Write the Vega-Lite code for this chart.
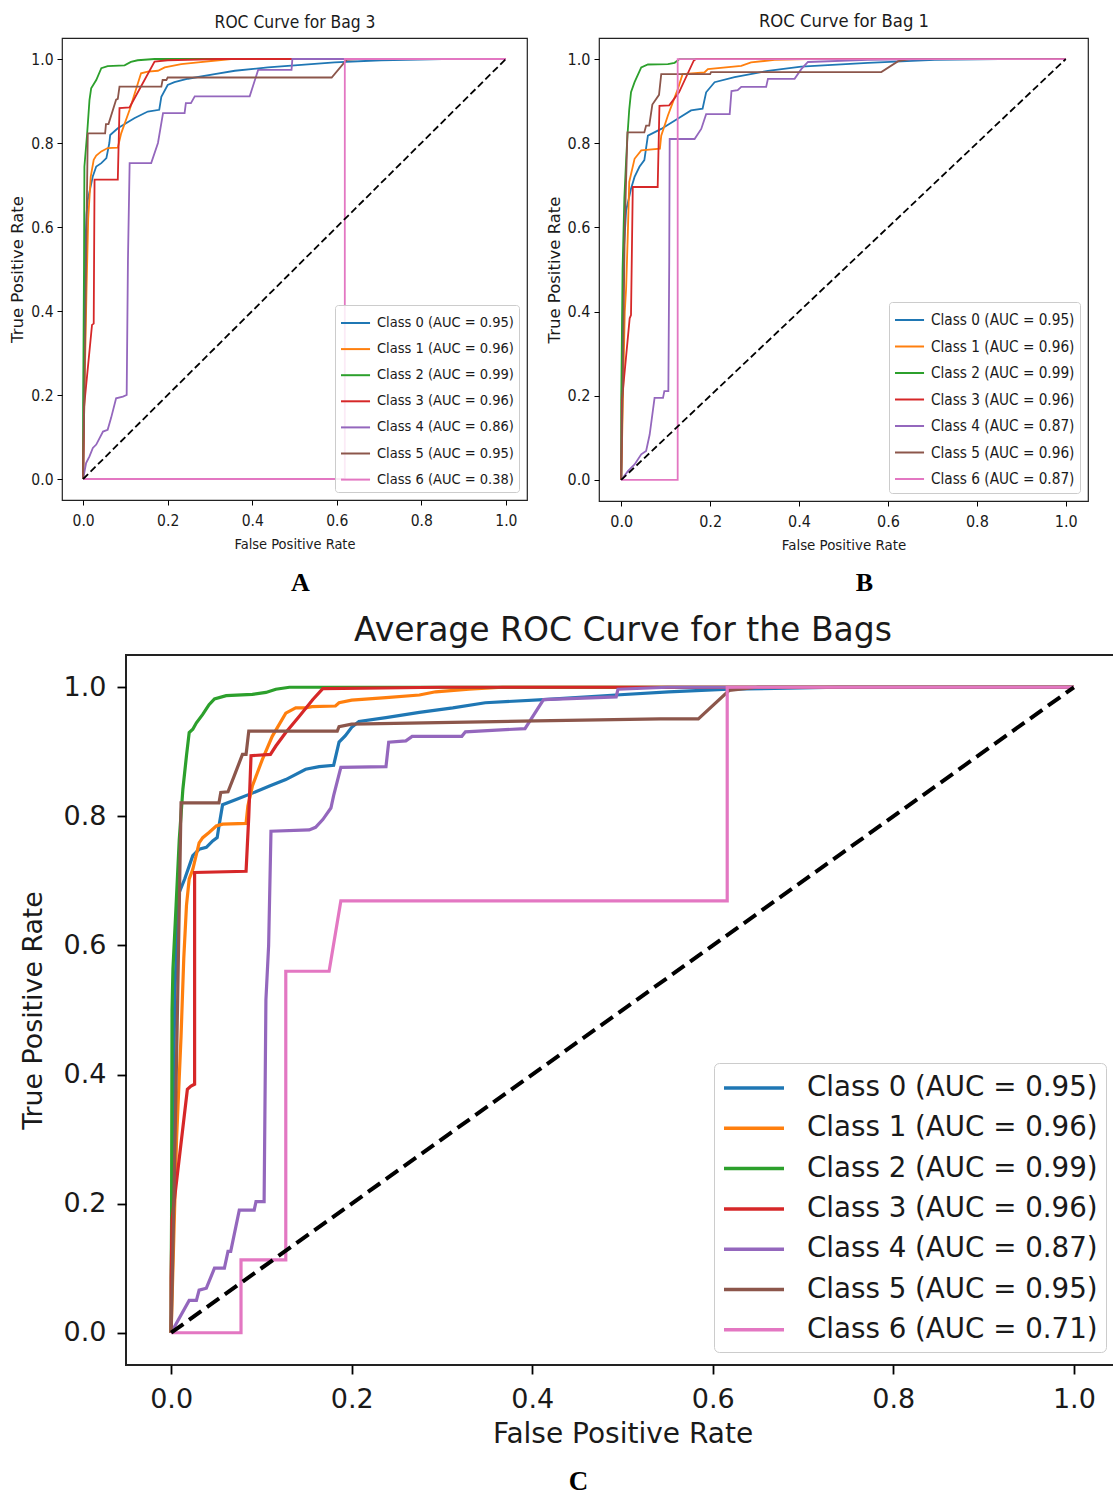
{
"$schema": "https://vega.github.io/schema/vega-lite/v6.json",
"padding": {"left": 9, "top": 10, "right": 0, "bottom": 2},
"background": "white",
"config": {
  "font": "DejaVu Sans",
  "axis": {"grid": false, "domain": false, "tickColor": "#000", "labelColor": "#1a1a1a", "titleColor": "#1a1a1a", "titleFontWeight": "normal", "labelFlush": false},
  "legend": {"fillColor": "rgba(255,255,255,0.85)", "strokeColor": "#cccccc", "labelColor": "#1a1a1a", "labelLimit": 600},
  "title": {"color": "#000"}
},
"datasets": {
"bag3": [
{"c":0,"x":0,"y":0},{"c":0,"x":0.002,"y":0.3},{"c":0,"x":0.005,"y":0.55},{"c":0,"x":0.008,"y":0.63},{"c":0,"x":0.011,"y":0.665},{"c":0,"x":0.023,"y":0.721},{"c":0,"x":0.031,"y":0.744},{"c":0,"x":0.043,"y":0.752},{"c":0,"x":0.055,"y":0.764},{"c":0,"x":0.062,"y":0.8},{"c":0,"x":0.064,"y":0.819},{"c":0,"x":0.082,"y":0.835},{"c":0,"x":0.121,"y":0.859},{"c":0,"x":0.153,"y":0.875},{"c":0,"x":0.18,"y":0.879},{"c":0,"x":0.185,"y":0.91},{"c":0,"x":0.2,"y":0.938},{"c":0,"x":0.216,"y":0.945},{"c":0,"x":0.248,"y":0.953},{"c":0,"x":0.311,"y":0.964},{"c":0,"x":0.359,"y":0.972},{"c":0,"x":0.437,"y":0.98},{"c":0,"x":0.516,"y":0.986},{"c":0,"x":0.595,"y":0.992},{"c":0,"x":0.705,"y":0.997},{"c":0,"x":0.85,"y":1.0},{"c":0,"x":1,"y":1},
{"c":1,"x":0,"y":0},{"c":1,"x":0.003,"y":0.2},{"c":1,"x":0.008,"y":0.45},{"c":1,"x":0.012,"y":0.62},{"c":1,"x":0.018,"y":0.72},{"c":1,"x":0.025,"y":0.76},{"c":1,"x":0.031,"y":0.77},{"c":1,"x":0.043,"y":0.78},{"c":1,"x":0.058,"y":0.788},{"c":1,"x":0.082,"y":0.789},{"c":1,"x":0.09,"y":0.823},{"c":1,"x":0.11,"y":0.879},{"c":1,"x":0.137,"y":0.966},{"c":1,"x":0.153,"y":0.97},{"c":1,"x":0.177,"y":0.972},{"c":1,"x":0.193,"y":0.98},{"c":1,"x":0.232,"y":0.988},{"c":1,"x":0.272,"y":0.992},{"c":1,"x":0.32,"y":0.997},{"c":1,"x":0.35,"y":1.0},{"c":1,"x":1,"y":1},
{"c":2,"x":0,"y":0},{"c":2,"x":0,"y":0.18},{"c":2,"x":0.002,"y":0.5},{"c":2,"x":0.003,"y":0.744},{"c":2,"x":0.0095,"y":0.823},{"c":2,"x":0.015,"y":0.902},{"c":2,"x":0.019,"y":0.93},{"c":2,"x":0.031,"y":0.95},{"c":2,"x":0.043,"y":0.978},{"c":2,"x":0.058,"y":0.983},{"c":2,"x":0.098,"y":0.985},{"c":2,"x":0.113,"y":0.993},{"c":2,"x":0.129,"y":0.997},{"c":2,"x":0.169,"y":1.0},{"c":2,"x":1,"y":1},
{"c":3,"x":0,"y":0},{"c":3,"x":0.002,"y":0.17},{"c":3,"x":0.021,"y":0.367},{"c":3,"x":0.025,"y":0.37},{"c":3,"x":0.027,"y":0.713},{"c":3,"x":0.082,"y":0.713},{"c":3,"x":0.086,"y":0.883},{"c":3,"x":0.11,"y":0.885},{"c":3,"x":0.169,"y":0.994},{"c":3,"x":0.2,"y":0.997},{"c":3,"x":0.32,"y":1.0},{"c":3,"x":1,"y":1},
{"c":4,"x":0,"y":0},{"c":4,"x":0.007,"y":0.038},{"c":4,"x":0.015,"y":0.054},{"c":4,"x":0.023,"y":0.074},{"c":4,"x":0.031,"y":0.082},{"c":4,"x":0.047,"y":0.113},{"c":4,"x":0.058,"y":0.117},{"c":4,"x":0.066,"y":0.145},{"c":4,"x":0.078,"y":0.192},{"c":4,"x":0.094,"y":0.196},{"c":4,"x":0.103,"y":0.2},{"c":4,"x":0.106,"y":0.521},{"c":4,"x":0.11,"y":0.752},{"c":4,"x":0.161,"y":0.752},{"c":4,"x":0.177,"y":0.8},{"c":4,"x":0.189,"y":0.871},{"c":4,"x":0.24,"y":0.871},{"c":4,"x":0.243,"y":0.895},{"c":4,"x":0.255,"y":0.895},{"c":4,"x":0.264,"y":0.911},{"c":4,"x":0.394,"y":0.911},{"c":4,"x":0.414,"y":0.974},{"c":4,"x":0.493,"y":0.974},{"c":4,"x":0.495,"y":1.0},{"c":4,"x":1,"y":1},
{"c":5,"x":0,"y":0},{"c":5,"x":0.003,"y":0.2},{"c":5,"x":0.008,"y":0.6},{"c":5,"x":0.011,"y":0.823},{"c":5,"x":0.052,"y":0.823},{"c":5,"x":0.054,"y":0.845},{"c":5,"x":0.06,"y":0.845},{"c":5,"x":0.078,"y":0.903},{"c":5,"x":0.082,"y":0.905},{"c":5,"x":0.086,"y":0.934},{"c":5,"x":0.185,"y":0.934},{"c":5,"x":0.188,"y":0.95},{"c":5,"x":0.197,"y":0.95},{"c":5,"x":0.2,"y":0.956},{"c":5,"x":0.588,"y":0.956},{"c":5,"x":0.623,"y":0.998},{"c":5,"x":0.65,"y":1.0},{"c":5,"x":1,"y":1},
{"c":6,"x":0,"y":0},{"c":6,"x":0.619,"y":0},{"c":6,"x":0.619,"y":1},{"c":6,"x":1,"y":1}
],
"bag1": [
{"c":0,"x":0,"y":0},{"c":0,"x":0.002,"y":0.3},{"c":0,"x":0.006,"y":0.55},{"c":0,"x":0.011,"y":0.64},{"c":0,"x":0.022,"y":0.692},{"c":0,"x":0.03,"y":0.72},{"c":0,"x":0.041,"y":0.744},{"c":0,"x":0.052,"y":0.76},{"c":0,"x":0.06,"y":0.818},{"c":0,"x":0.09,"y":0.834},{"c":0,"x":0.127,"y":0.858},{"c":0,"x":0.157,"y":0.878},{"c":0,"x":0.183,"y":0.882},{"c":0,"x":0.191,"y":0.921},{"c":0,"x":0.21,"y":0.945},{"c":0,"x":0.255,"y":0.957},{"c":0,"x":0.33,"y":0.972},{"c":0,"x":0.405,"y":0.982},{"c":0,"x":0.555,"y":0.991},{"c":0,"x":0.705,"y":0.998},{"c":0,"x":0.85,"y":1.0},{"c":0,"x":1,"y":1},
{"c":1,"x":0,"y":0},{"c":1,"x":0.003,"y":0.15},{"c":1,"x":0.008,"y":0.4},{"c":1,"x":0.011,"y":0.455},{"c":1,"x":0.015,"y":0.59},{"c":1,"x":0.018,"y":0.708},{"c":1,"x":0.03,"y":0.763},{"c":1,"x":0.045,"y":0.783},{"c":1,"x":0.087,"y":0.787},{"c":1,"x":0.09,"y":0.818},{"c":1,"x":0.105,"y":0.866},{"c":1,"x":0.127,"y":0.928},{"c":1,"x":0.138,"y":0.964},{"c":1,"x":0.187,"y":0.968},{"c":1,"x":0.195,"y":0.976},{"c":1,"x":0.27,"y":0.984},{"c":1,"x":0.292,"y":0.992},{"c":1,"x":0.345,"y":0.998},{"c":1,"x":0.42,"y":1.0},{"c":1,"x":1,"y":1},
{"c":2,"x":0,"y":0},{"c":2,"x":0,"y":0.187},{"c":2,"x":0.003,"y":0.5},{"c":2,"x":0.007,"y":0.67},{"c":2,"x":0.011,"y":0.76},{"c":2,"x":0.014,"y":0.818},{"c":2,"x":0.018,"y":0.88},{"c":2,"x":0.022,"y":0.921},{"c":2,"x":0.03,"y":0.945},{"c":2,"x":0.045,"y":0.98},{"c":2,"x":0.06,"y":0.987},{"c":2,"x":0.105,"y":0.988},{"c":2,"x":0.12,"y":0.991},{"c":2,"x":0.131,"y":1.0},{"c":2,"x":1,"y":1},
{"c":3,"x":0,"y":0},{"c":3,"x":0.0015,"y":0.187},{"c":3,"x":0.019,"y":0.384},{"c":3,"x":0.022,"y":0.392},{"c":3,"x":0.026,"y":0.696},{"c":3,"x":0.082,"y":0.696},{"c":3,"x":0.086,"y":0.889},{"c":3,"x":0.108,"y":0.89},{"c":3,"x":0.13,"y":0.921},{"c":3,"x":0.163,"y":0.996},{"c":3,"x":0.168,"y":1.0},{"c":3,"x":1,"y":1},
{"c":4,"x":0,"y":0},{"c":4,"x":0.015,"y":0.021},{"c":4,"x":0.03,"y":0.037},{"c":4,"x":0.045,"y":0.061},{"c":4,"x":0.056,"y":0.069},{"c":4,"x":0.064,"y":0.108},{"c":4,"x":0.075,"y":0.195},{"c":4,"x":0.094,"y":0.195},{"c":4,"x":0.097,"y":0.211},{"c":4,"x":0.106,"y":0.211},{"c":4,"x":0.108,"y":0.52},{"c":4,"x":0.109,"y":0.81},{"c":4,"x":0.165,"y":0.81},{"c":4,"x":0.18,"y":0.834},{"c":4,"x":0.191,"y":0.869},{"c":4,"x":0.244,"y":0.869},{"c":4,"x":0.248,"y":0.924},{"c":4,"x":0.262,"y":0.926},{"c":4,"x":0.27,"y":0.934},{"c":4,"x":0.326,"y":0.934},{"c":4,"x":0.33,"y":0.953},{"c":4,"x":0.39,"y":0.953},{"c":4,"x":0.405,"y":0.976},{"c":4,"x":0.42,"y":0.993},{"c":4,"x":0.555,"y":0.998},{"c":4,"x":0.7,"y":1.0},{"c":4,"x":1,"y":1},
{"c":5,"x":0,"y":0},{"c":5,"x":0.003,"y":0.2},{"c":5,"x":0.008,"y":0.6},{"c":5,"x":0.014,"y":0.826},{"c":5,"x":0.052,"y":0.826},{"c":5,"x":0.056,"y":0.842},{"c":5,"x":0.063,"y":0.842},{"c":5,"x":0.07,"y":0.892},{"c":5,"x":0.085,"y":0.915},{"c":5,"x":0.09,"y":0.964},{"c":5,"x":0.2,"y":0.964},{"c":5,"x":0.202,"y":0.969},{"c":5,"x":0.585,"y":0.969},{"c":5,"x":0.623,"y":0.995},{"c":5,"x":0.65,"y":1.0},{"c":5,"x":1,"y":1},
{"c":6,"x":0,"y":0},{"c":6,"x":0.127,"y":0},{"c":6,"x":0.127,"y":1},{"c":6,"x":1,"y":1}
],
"avg": [
{"c":0,"x":0,"y":0},{"c":0,"x":0.002,"y":0.3},{"c":0,"x":0.004,"y":0.52},{"c":0,"x":0.006,"y":0.6},{"c":0,"x":0.009,"y":0.682},{"c":0,"x":0.015,"y":0.703},{"c":0,"x":0.024,"y":0.739},{"c":0,"x":0.031,"y":0.749},{"c":0,"x":0.039,"y":0.752},{"c":0,"x":0.046,"y":0.762},{"c":0,"x":0.051,"y":0.767},{"c":0,"x":0.053,"y":0.785},{"c":0,"x":0.057,"y":0.818},{"c":0,"x":0.072,"y":0.826},{"c":0,"x":0.09,"y":0.836},{"c":0,"x":0.109,"y":0.847},{"c":0,"x":0.127,"y":0.857},{"c":0,"x":0.149,"y":0.873},{"c":0,"x":0.164,"y":0.877},{"c":0,"x":0.18,"y":0.879},{"c":0,"x":0.186,"y":0.915},{"c":0,"x":0.193,"y":0.925},{"c":0,"x":0.2,"y":0.938},{"c":0,"x":0.208,"y":0.947},{"c":0,"x":0.238,"y":0.953},{"c":0,"x":0.275,"y":0.961},{"c":0,"x":0.312,"y":0.968},{"c":0,"x":0.348,"y":0.976},{"c":0,"x":0.4125,"y":0.981},{"c":0,"x":0.488,"y":0.9876},{"c":0,"x":0.551,"y":0.993},{"c":0,"x":0.618,"y":0.997},{"c":0,"x":0.74,"y":1.0},{"c":0,"x":1,"y":1},
{"c":1,"x":0,"y":0},{"c":1,"x":0.003,"y":0.15},{"c":1,"x":0.006,"y":0.3},{"c":1,"x":0.011,"y":0.46},{"c":1,"x":0.014,"y":0.58},{"c":1,"x":0.017,"y":0.662},{"c":1,"x":0.02,"y":0.703},{"c":1,"x":0.024,"y":0.718},{"c":1,"x":0.031,"y":0.759},{"c":1,"x":0.035,"y":0.767},{"c":1,"x":0.042,"y":0.775},{"c":1,"x":0.05,"y":0.785},{"c":1,"x":0.057,"y":0.788},{"c":1,"x":0.083,"y":0.789},{"c":1,"x":0.085,"y":0.816},{"c":1,"x":0.09,"y":0.847},{"c":1,"x":0.101,"y":0.888},{"c":1,"x":0.112,"y":0.924},{"c":1,"x":0.127,"y":0.96},{"c":1,"x":0.138,"y":0.968},{"c":1,"x":0.149,"y":0.968},{"c":1,"x":0.156,"y":0.97},{"c":1,"x":0.182,"y":0.971},{"c":1,"x":0.186,"y":0.976},{"c":1,"x":0.2,"y":0.98},{"c":1,"x":0.238,"y":0.984},{"c":1,"x":0.275,"y":0.988},{"c":1,"x":0.293,"y":0.993},{"c":1,"x":0.33,"y":0.997},{"c":1,"x":0.367,"y":1.0},{"c":1,"x":1,"y":1},
{"c":2,"x":0,"y":0},{"c":2,"x":0,"y":0.08},{"c":2,"x":0.0005,"y":0.18},{"c":2,"x":0.001,"y":0.5},{"c":2,"x":0.002,"y":0.563},{"c":2,"x":0.0055,"y":0.662},{"c":2,"x":0.009,"y":0.764},{"c":2,"x":0.013,"y":0.842},{"c":2,"x":0.017,"y":0.894},{"c":2,"x":0.02,"y":0.93},{"c":2,"x":0.024,"y":0.935},{"c":2,"x":0.028,"y":0.945},{"c":2,"x":0.035,"y":0.958},{"c":2,"x":0.042,"y":0.973},{"c":2,"x":0.048,"y":0.982},{"c":2,"x":0.061,"y":0.987},{"c":2,"x":0.09,"y":0.989},{"c":2,"x":0.105,"y":0.992},{"c":2,"x":0.116,"y":0.997},{"c":2,"x":0.131,"y":1.0},{"c":2,"x":1,"y":1},
{"c":3,"x":0,"y":0},{"c":3,"x":0,"y":0.085},{"c":3,"x":0.001,"y":0.175},{"c":3,"x":0.018,"y":0.377},{"c":3,"x":0.022,"y":0.382},{"c":3,"x":0.026,"y":0.385},{"c":3,"x":0.026,"y":0.713},{"c":3,"x":0.083,"y":0.715},{"c":3,"x":0.086,"y":0.8},{"c":3,"x":0.0885,"y":0.894},{"c":3,"x":0.11,"y":0.896},{"c":3,"x":0.116,"y":0.909},{"c":3,"x":0.127,"y":0.93},{"c":3,"x":0.142,"y":0.955},{"c":3,"x":0.157,"y":0.981},{"c":3,"x":0.168,"y":0.998},{"c":3,"x":0.3,"y":1.0},{"c":3,"x":1,"y":1},
{"c":4,"x":0,"y":0},{"c":4,"x":0.02,"y":0.05},{"c":4,"x":0.028,"y":0.05},{"c":4,"x":0.031,"y":0.066},{"c":4,"x":0.039,"y":0.069},{"c":4,"x":0.048,"y":0.1},{"c":4,"x":0.059,"y":0.1},{"c":4,"x":0.063,"y":0.126},{"c":4,"x":0.066,"y":0.126},{"c":4,"x":0.0755,"y":0.19},{"c":4,"x":0.092,"y":0.19},{"c":4,"x":0.094,"y":0.203},{"c":4,"x":0.103,"y":0.203},{"c":4,"x":0.105,"y":0.516},{"c":4,"x":0.108,"y":0.6},{"c":4,"x":0.1106,"y":0.777},{"c":4,"x":0.153,"y":0.779},{"c":4,"x":0.16,"y":0.783},{"c":4,"x":0.168,"y":0.795},{"c":4,"x":0.177,"y":0.813},{"c":4,"x":0.18,"y":0.832},{"c":4,"x":0.188,"y":0.876},{"c":4,"x":0.238,"y":0.877},{"c":4,"x":0.241,"y":0.915},{"c":4,"x":0.26,"y":0.917},{"c":4,"x":0.267,"y":0.924},{"c":4,"x":0.322,"y":0.924},{"c":4,"x":0.326,"y":0.931},{"c":4,"x":0.392,"y":0.936},{"c":4,"x":0.4125,"y":0.981},{"c":4,"x":0.493,"y":0.985},{"c":4,"x":0.495,"y":0.997},{"c":4,"x":0.55,"y":1.0},{"c":4,"x":1,"y":1},
{"c":5,"x":0,"y":0},{"c":5,"x":0.003,"y":0.2},{"c":5,"x":0.007,"y":0.5},{"c":5,"x":0.011,"y":0.821},{"c":5,"x":0.053,"y":0.821},{"c":5,"x":0.055,"y":0.837},{"c":5,"x":0.063,"y":0.838},{"c":5,"x":0.07,"y":0.863},{"c":5,"x":0.079,"y":0.896},{"c":5,"x":0.083,"y":0.896},{"c":5,"x":0.086,"y":0.932},{"c":5,"x":0.184,"y":0.932},{"c":5,"x":0.186,"y":0.939},{"c":5,"x":0.2,"y":0.943},{"c":5,"x":0.404,"y":0.948},{"c":5,"x":0.542,"y":0.951},{"c":5,"x":0.584,"y":0.951},{"c":5,"x":0.618,"y":0.995},{"c":5,"x":0.65,"y":1.0},{"c":5,"x":1,"y":1},
{"c":6,"x":0,"y":0},{"c":6,"x":0.0774,"y":0},{"c":6,"x":0.0774,"y":0.113},{"c":6,"x":0.127,"y":0.113},{"c":6,"x":0.127,"y":0.56},{"c":6,"x":0.175,"y":0.56},{"c":6,"x":0.188,"y":0.669},{"c":6,"x":0.616,"y":0.669},{"c":6,"x":0.616,"y":1.0},{"c":6,"x":1,"y":1}
]
},
"vconcat": [
{
"hconcat": [
{
  "width": 465, "height": 462,
  "view": {"stroke": "#222", "strokeWidth": 1.2},
  "title": {"text": "A", "orient": "bottom", "anchor": "middle", "frame": "group", "font": "Liberation Serif", "fontSize": 26, "fontWeight": "bold", "color": "#000", "offset": 19, "dx": 6},
  "layer": [
    {
      "data": {"name": "bag3"},
      "mark": {"type": "line", "strokeWidth": 1.8},
      "encoding": {
        "x": {"field": "x", "type": "quantitative", "scale": {"domain": [-0.05, 1.05], "nice": false, "zero": false},
              "axis": {"orient": "bottom", "values": [0, 0.2, 0.4, 0.6, 0.8, 1], "format": ".1f", "title": "False Positive Rate", "labelFont": "DejaVu Sans Condensed", "labelFontSize": 15.5, "titleFont": "DejaVu Sans Condensed", "titleFontSize": 14.5, "tickSize": 5, "labelPadding": 8, "titlePadding": 9}},
        "y": {"field": "y", "type": "quantitative", "scale": {"domain": [-0.05, 1.05], "nice": false, "zero": false},
              "axis": {"values": [0, 0.2, 0.4, 0.6, 0.8, 1], "format": ".1f", "title": "True Positive Rate", "labelFont": "DejaVu Sans Condensed", "labelFontSize": 15.5, "titleFont": "DejaVu Sans", "titleFontSize": 16.5, "tickSize": 5, "labelPadding": 4, "titlePadding": 5}},
        "color": {"field": "c", "type": "nominal", "scale": {"domain": [0, 1, 2, 3, 4, 5, 6], "range": ["#1f77b4", "#ff7f0e", "#2ca02c", "#d62728", "#9467bd", "#8c564b", "#e377c2"]},
                  "legend": {"title": null, "orient": "bottom-right", "offset": 8, "labelExpr": "['Class 0 (AUC = 0.95)','Class 1 (AUC = 0.96)','Class 2 (AUC = 0.99)','Class 3 (AUC = 0.96)','Class 4 (AUC = 0.86)','Class 5 (AUC = 0.95)','Class 6 (AUC = 0.38)'][datum.value]",
                             "labelFont": "DejaVu Sans Condensed", "labelFontSize": 14.5, "symbolType": "M-1,0L1.42,0", "symbolSize": 576, "symbolStrokeWidth": 2, "labelOffset": 11, "rowPadding": 6.1, "padding": 5, "cornerRadius": 3}},
        "order": {"value": null}
      }
    },
    {
      "data": {"values": [{"x": 0, "y": 0}, {"x": 1, "y": 1}]},
      "mark": {"type": "line", "color": "#000", "strokeWidth": 1.8, "strokeDash": [7, 3.5]},
      "encoding": {
        "x": {"field": "x", "type": "quantitative", "scale": {"domain": [-0.05, 1.05], "nice": false, "zero": false},
              "axis": {"orient": "top", "title": "ROC Curve for Bag 3", "labels": false, "ticks": false, "domain": false, "titleFont": "DejaVu Sans Condensed", "titleFontSize": 17.3, "titlePadding": 7, "minExtent": 0, "maxExtent": 0}},
        "y": {"field": "y", "type": "quantitative", "scale": {"domain": [-0.05, 1.05], "nice": false, "zero": false}}
      }
    }
  ],
  "resolve": {"axis": {"x": "independent"}}
},
{
  "width": 489, "height": 463,
  "view": {"stroke": "#222", "strokeWidth": 1.2},
  "title": {"text": "B", "orient": "bottom", "anchor": "middle", "frame": "group", "font": "Liberation Serif", "fontSize": 26, "fontWeight": "bold", "color": "#000", "offset": 18, "dx": 21},
  "layer": [
    {
      "data": {"name": "bag1"},
      "mark": {"type": "line", "strokeWidth": 1.8},
      "encoding": {
        "x": {"field": "x", "type": "quantitative", "scale": {"domain": [-0.05, 1.05], "nice": false, "zero": false},
              "axis": {"orient": "bottom", "values": [0, 0.2, 0.4, 0.6, 0.8, 1], "format": ".1f", "title": "False Positive Rate", "labelFont": "DejaVu Sans Condensed", "labelFontSize": 16, "titleFont": "DejaVu Sans Condensed", "titleFontSize": 14.9, "tickSize": 5, "labelPadding": 7, "titlePadding": 8}},
        "y": {"field": "y", "type": "quantitative", "scale": {"domain": [-0.05, 1.05], "nice": false, "zero": false},
              "axis": {"values": [0, 0.2, 0.4, 0.6, 0.8, 1], "format": ".1f", "title": "True Positive Rate", "labelFont": "DejaVu Sans Condensed", "labelFontSize": 16, "titleFont": "DejaVu Sans", "titleFontSize": 16.5, "tickSize": 5, "labelPadding": 4, "titlePadding": 5}},
        "color": {"field": "c", "type": "nominal", "scale": {"domain": [0, 1, 2, 3, 4, 5, 6], "range": ["#1f77b4", "#ff7f0e", "#2ca02c", "#d62728", "#9467bd", "#8c564b", "#e377c2"]},
                  "legend": {"title": null, "orient": "bottom-right", "offset": 8, "labelExpr": "['Class 0 (AUC = 0.95)','Class 1 (AUC = 0.96)','Class 2 (AUC = 0.99)','Class 3 (AUC = 0.96)','Class 4 (AUC = 0.87)','Class 5 (AUC = 0.96)','Class 6 (AUC = 0.87)'][datum.value]",
                             "labelFont": "DejaVu Sans Condensed", "labelFontSize": 15.2, "symbolType": "M-1,0L1.42,0", "symbolSize": 576, "symbolStrokeWidth": 2, "labelOffset": 11, "rowPadding": 4.5, "padding": 5, "cornerRadius": 3}},
        "order": {"value": null}
      }
    },
    {
      "data": {"values": [{"x": 0, "y": 0}, {"x": 1, "y": 1}]},
      "mark": {"type": "line", "color": "#000", "strokeWidth": 1.8, "strokeDash": [7, 3.5]},
      "encoding": {
        "x": {"field": "x", "type": "quantitative", "scale": {"domain": [-0.05, 1.05], "nice": false, "zero": false},
              "axis": {"orient": "top", "title": "ROC Curve for Bag 1", "labels": false, "ticks": false, "domain": false, "titleFont": "DejaVu Sans Condensed", "titleFontSize": 18.3, "titlePadding": 8, "minExtent": 0, "maxExtent": 0}},
        "y": {"field": "y", "type": "quantitative", "scale": {"domain": [-0.05, 1.05], "nice": false, "zero": false}}
      }
    }
  ],
  "resolve": {"axis": {"x": "independent"}}
}
],
"spacing": 17,
"resolve": {"scale": {"x": "independent", "y": "independent", "color": "independent"}, "legend": {"color": "independent"}}
},
{
"hconcat": [
{
  "width": 1, "height": 1,
  "view": {"stroke": null},
  "data": {"values": []},
  "mark": "point"
},
{
  "width": 993, "height": 710,
  "view": {"stroke": "#222", "strokeWidth": 2},
  "title": {"text": "C", "orient": "bottom", "anchor": "middle", "frame": "group", "font": "Liberation Serif", "fontSize": 27, "fontWeight": "bold", "color": "#000", "offset": 21, "dx": -44},
  "layer": [
    {
      "data": {"name": "avg"},
      "mark": {"type": "line", "strokeWidth": 3.2},
      "encoding": {
        "x": {"field": "x", "type": "quantitative", "scale": {"domain": [-0.05, 1.05], "nice": false, "zero": false},
              "axis": {"orient": "bottom", "values": [0, 0.2, 0.4, 0.6, 0.8, 1], "format": ".1f", "title": "False Positive Rate", "labelFontSize": 27, "titleFontSize": 28, "tickSize": 9, "tickWidth": 1.8, "labelPadding": 12, "titlePadding": 8}},
        "y": {"field": "y", "type": "quantitative", "scale": {"domain": [-0.05, 1.05], "nice": false, "zero": false},
              "axis": {"values": [0, 0.2, 0.4, 0.6, 0.8, 1], "format": ".1f", "title": "True Positive Rate", "labelFontSize": 27, "titleFontSize": 26.8, "tickSize": 9, "tickWidth": 1.8, "labelPadding": 11, "titlePadding": 16}},
        "color": {"field": "c", "type": "nominal", "scale": {"domain": [0, 1, 2, 3, 4, 5, 6], "range": ["#1f77b4", "#ff7f0e", "#2ca02c", "#d62728", "#9467bd", "#8c564b", "#e377c2"]},
                  "legend": {"title": null, "orient": "bottom-right", "offset": 13, "labelExpr": "['Class 0 (AUC = 0.95)','Class 1 (AUC = 0.96)','Class 2 (AUC = 0.99)','Class 3 (AUC = 0.96)','Class 4 (AUC = 0.87)','Class 5 (AUC = 0.95)','Class 6 (AUC = 0.71)'][datum.value]",
                             "labelFontSize": 27.7, "symbolType": "M-1,0L3,0", "symbolSize": 900, "symbolStrokeWidth": 3.5, "labelOffset": 51, "rowPadding": 9.3, "padding": 8, "cornerRadius": 5}},
        "order": {"value": null}
      }
    },
    {
      "data": {"values": [{"x": 0, "y": 0}, {"x": 1, "y": 1}]},
      "mark": {"type": "line", "color": "#000", "strokeWidth": 4, "strokeDash": [15, 7]},
      "encoding": {
        "x": {"field": "x", "type": "quantitative", "scale": {"domain": [-0.05, 1.05], "nice": false, "zero": false},
              "axis": {"orient": "top", "title": "Average ROC Curve for the Bags", "labels": false, "ticks": false, "domain": false, "titleFontSize": 33, "titlePadding": 8, "minExtent": 0, "maxExtent": 0}},
        "y": {"field": "y", "type": "quantitative", "scale": {"domain": [-0.05, 1.05], "nice": false, "zero": false}}
      }
    }
  ],
  "resolve": {"axis": {"x": "independent"}}
}
],
"spacing": -44,
"resolve": {"scale": {"color": "independent"}, "legend": {"color": "independent"}}
}
],
"spacing": 16,
"resolve": {"scale": {"x": "independent", "y": "independent", "color": "independent"}, "legend": {"color": "independent"}}
}
